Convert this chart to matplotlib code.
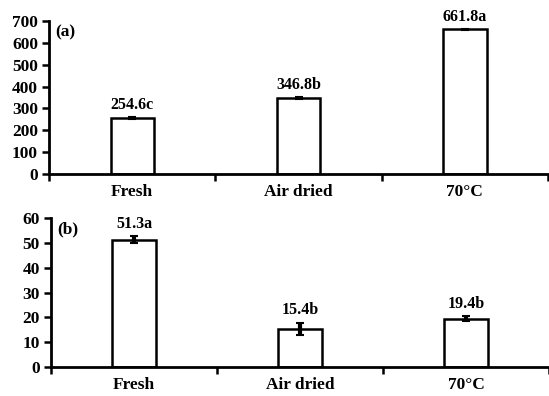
import numpy as np
import matplotlib
matplotlib.use("Agg")
from matplotlib import pyplot as plt

# data
categories = ["Fresh", "Air dried", "70°C"]
values_a = [254.6, 346.8, 661.8]
errors_a = [4, 4, 3]
letters_a = ["c", "b", "a"]
values_b = [51.3, 15.4, 19.4]
errors_b = [1.5, 2.5, 1.0]
letters_b = ["a", "b", "b"]

plt.rcParams['font.family'] = ['Liberation Serif', 'DejaVu Serif']
plt.rcParams['font.weight'] = 'bold'

fig = plt.figure(figsize=(5.49, 3.96), dpi=100)
ax1 = fig.add_axes([0.0893, 0.5606, 0.909, 0.3864])
ax2 = fig.add_axes([0.0929, 0.0732, 0.907, 0.376])


def draw_panel(ax, values, errors, letters, ymax, step, tag):
    x = np.arange(len(categories))
    ax.bar(x, values, width=0.26, color='white', edgecolor='black', linewidth=1.8, zorder=2)
    ax.errorbar(x, values, yerr=errors, fmt='none', ecolor='black', elinewidth=3,
                capsize=3, capthick=1.5, zorder=3)
    for xi, v, e, l in zip(x, values, errors, letters):
        ax.annotate(f"{v}{l}", (xi, v + e), xytext=(0, 3), textcoords='offset points',
                    ha='center', va='bottom', fontsize=11.5, fontweight='bold')
    ax.set_xlim(-0.5, 2.5)
    ax.set_ylim(0, ymax)
    ax.set_yticks(np.arange(0, ymax + 1, step))
    ax.set_xticks(x)
    ax.set_xticklabels(categories)
    ax.set_xticks([-0.5, 0.5, 1.5, 2.5], minor=True)
    ax.tick_params(axis='x', which='major', length=0, pad=7, labelsize=12.5)
    ax.tick_params(axis='x', which='minor', length=5, width=1.8, direction='out')
    ax.tick_params(axis='y', length=5, width=1.8, direction='out', pad=3, labelsize=12.5)
    for s in ['top', 'right']:
        ax.spines[s].set_visible(False)
    for s in ['left', 'bottom']:
        ax.spines[s].set_linewidth(2)
    ax.text(0.012, 0.975, tag, transform=ax.transAxes, ha='left', va='top',
            fontsize=12.5, fontweight='bold')


draw_panel(ax1, values_a, errors_a, letters_a, 700, 100, "(a)")
draw_panel(ax2, values_b, errors_b, letters_b, 60, 10, "(b)")

fig.savefig("out.png", dpi=100)
